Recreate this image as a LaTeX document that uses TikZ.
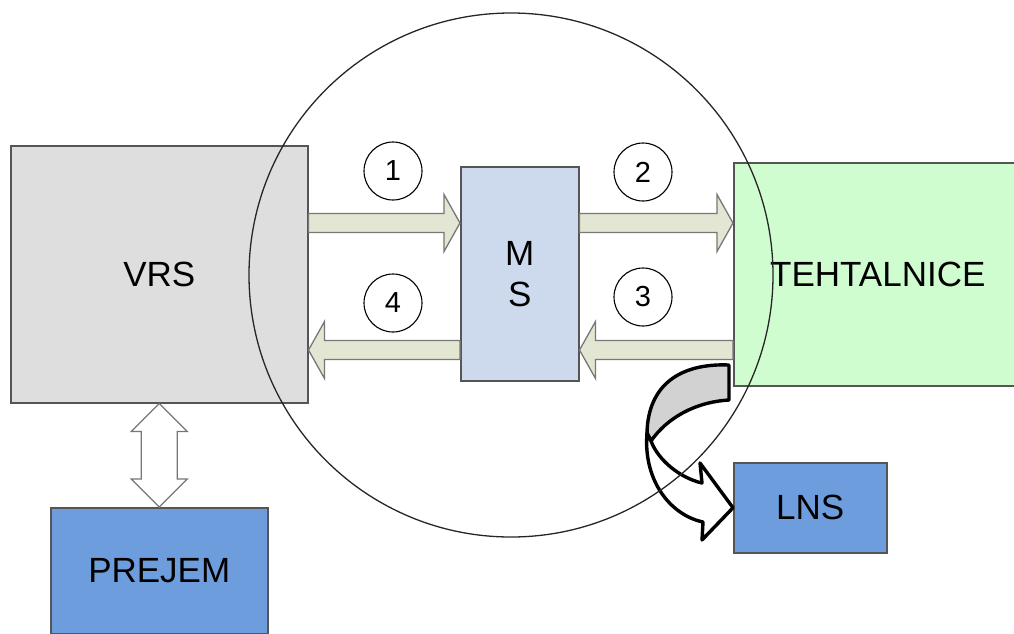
\documentclass[tikz,border=0pt]{standalone}
\usepackage{fontspec}
\setmainfont{Liberation Sans}
\usetikzlibrary{calc}

\definecolor{vrsfill}{HTML}{DEDEDE}
\definecolor{msfill}{HTML}{CDDAEE}
\definecolor{tehfill}{HTML}{CFFDCF}
\definecolor{bluefill}{HTML}{6E9DDE}
\definecolor{arrowfill}{HTML}{E3E6D2}
\definecolor{edgegray}{HTML}{555555}
\definecolor{arrowedge}{HTML}{777777}
\definecolor{backgray}{HTML}{D2D2D2}

% straight block arrow from #1 to #2 (same height), #3 = +1 right, -1 left
\newcommand\blockarrow[3]{%
  \path[blockarr] let \p1=(#1), \p2=(#2) in
    (\x1,{\y1+9.5pt}) -- ({\x2-#3*16pt},{\y1+9.5pt}) -- ({\x2-#3*16pt},{\y1+28.5pt})
    -- (\x2,\y2) -- ({\x2-#3*16pt},{\y1-28.5pt}) -- ({\x2-#3*16pt},{\y1-9.5pt})
    -- (\x1,{\y1-9.5pt}) -- cycle;}

\begin{document}
\begin{tikzpicture}[x=1pt,y=-1pt,
  box/.style={draw=edgegray, line width=1.5pt, rectangle, inner sep=0pt,
    anchor=north west, font=\fontsize{35}{41}\selectfont, align=center},
  num/.style={draw=black, line width=1.1pt, circle, minimum size=58pt, inner sep=0pt,
    font=\fontsize{29}{32}\selectfont},
  blockarr/.style={draw=arrowedge, line width=1.3pt, fill=arrowfill, line join=miter},
  dblarr/.style={draw=arrowedge, line width=1.3pt, fill=white},
  curv/.style={draw=black, line width=3.4pt, line join=round},
  ring/.style={draw=black!85, line width=1.3pt, circle, inner sep=0pt}]
\useasboundingbox (0,0) rectangle (1014,633);
\clip (0,0) rectangle (1014,633);

% main blocks
\node[box, fill=vrsfill, minimum width=297pt, minimum height=257pt] (vrs) at (10,145) {VRS};
\node[box, fill=msfill, minimum width=118pt, minimum height=214pt] (ms) at (460,166) {M\\S};
\node[box, fill=tehfill, minimum width=288pt, minimum height=223pt] (teh) at (733,162) {TEHTALNICE};
\node[box, fill=bluefill, minimum width=217pt, minimum height=126pt] (prejem) at (50,507) {PREJEM};
\node[box, fill=bluefill, minimum width=153pt, minimum height=90pt] (lns) at (733,462) {\raisebox{-5pt}{LNS}};

% heights of the two arrow rows
\coordinate (r1) at (0,223);
\coordinate (r2) at (0,350);

% flow arrows
\blockarrow{vrs.east|-r1}{ms.west|-r1}{1}
\blockarrow{ms.east|-r1}{teh.west|-r1}{1}
\blockarrow{teh.west|-r2}{ms.east|-r2}{-1}
\blockarrow{ms.west|-r2}{vrs.east|-r2}{-1}

% step numbers
\node[num] (n1) at (393,171) {1};
\node[num] (n2) at (643,172) {2};
\node[num] (n3) at (643,297) {3};
\node[num] (n4) at (393,303) {4};

% two-way arrow between VRS and PREJEM
\path[dblarr] let \p1=(vrs.south), \p2=(prejem.north) in
  (\p1) -- ({\x1-28pt},{\y1-28pt}) -- ({\x1-18pt},{\y1-28pt}) -- ({\x1-18pt},{\y2+28pt})
  -- ({\x1-28pt},{\y2+28pt}) -- (\p2) -- ({\x1+28pt},{\y2+28pt}) -- ({\x1+18pt},{\y2+28pt})
  -- ({\x1+18pt},{\y1-28pt}) -- ({\x1+28pt},{\y1-28pt}) -- cycle;

% curved arrow from TEHTALNICE down to LNS: shaded back band, white front band
\path[curv, fill=backgray] (729,365) .. controls (680,363) and (648,385) .. (647,433)
  -- (651,441) .. controls (667,418) and (695,402) .. (729,400) -- cycle;
\path[curv, fill=white] (647,433) .. controls (643,480) and (670,515) .. (703,522)
  -- (702,540) -- (lns.west) -- (700,463) -- (702,483)
  .. controls (680,478) and (658,460) .. (651,441) -- cycle;

% boundary circle around the MS block
\node[ring, minimum size=524pt] (zone) at (511,275) {};
\end{tikzpicture}
\end{document}
